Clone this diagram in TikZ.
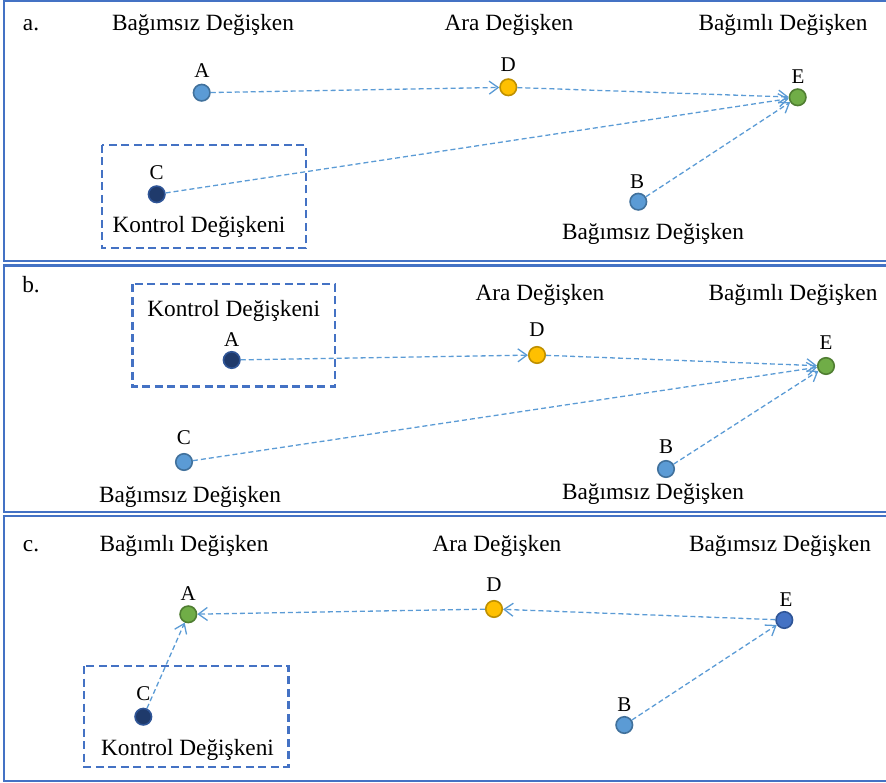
\documentclass[tikz,border=0pt]{standalone}
\usepackage{fontspec}
\setmainfont{Liberation Serif}
\usetikzlibrary{arrows.meta}

\definecolor{frameblue}{HTML}{4472C4}
\definecolor{linkblue}{HTML}{5B9BD5}
\definecolor{lightfill}{HTML}{5B9BD5}
\definecolor{lightedge}{HTML}{41719C}
\definecolor{navyfill}{HTML}{1F3A6B}
\definecolor{navyedge}{HTML}{2F5597}
\definecolor{goldfill}{HTML}{FFC000}
\definecolor{goldedge}{HTML}{BF9000}
\definecolor{greenfill}{HTML}{70AD47}
\definecolor{greenedge}{HTML}{507E32}
\definecolor{midfill}{HTML}{4472C4}
\definecolor{midedge}{HTML}{2F5597}

\tikzset{
  panel/.style={draw=frameblue, line width=2.2pt},
  ctrlbox/.style={draw=frameblue, line width=2.4pt, dash pattern=on 8pt off 4.5pt},
  caption/.style={anchor=base, inner sep=0pt, font=\fontsize{23.3}{28}\selectfont},
  letter/.style={anchor=base, inner sep=0pt, font=\fontsize{21}{25}\selectfont},
  dot/.style={circle, inner sep=0pt, minimum size=16.5pt, line width=1.6pt},
  lightdot/.style={dot, fill=lightfill, draw=lightedge},
  navydot/.style={dot, fill=navyfill, draw=navyedge},
  golddot/.style={dot, fill=goldfill, draw=goldedge},
  greendot/.style={dot, fill=greenfill, draw=greenedge},
  middot/.style={dot, fill=midfill, draw=midedge},
  link/.style={draw=linkblue, line width=1.3pt, dash pattern=on 5pt off 3pt,
    -{Straight Barb[length=9pt, width=13pt]}},
}

\begin{document}
\begin{tikzpicture}[x=1pt, y=-1pt]
\useasboundingbox (0,0) rectangle (886,783);
\clip (0,0) rectangle (886,783);

% panel frames
\draw[panel] (4.3,1) rectangle (895,261);
\draw[panel] (4.3,265.5) rectangle (895,512);
\draw[panel] (4.3,516) rectangle (895,780.8);

% ---------------- panel a ----------------
\node[caption] (a-tag) at (31,30.7) {a.};
\node[caption] (a-t1) at (203,30.7) {Bağımsız Değişken};
\node[caption] (a-t2) at (509,30.7) {Ara Değişken};
\node[caption] (a-t3) at (783,30.7) {Bağımlı Değişken};

\draw[ctrlbox] (101.7,145) rectangle (306,248.3);
\node[caption] (a-ctrl) at (199,233) {Kontrol Değişkeni};
\node[caption] (a-t4) at (653,239.3) {Bağımsız Değişken};

\node[letter] (a-lA) at (202,78) {A};
\node[letter] (a-lD) at (508.3,71.7) {D};
\node[letter] (a-lE) at (798,83.3) {E};
\node[letter] (a-lC) at (156.7,180) {C};
\node[letter] (a-lB) at (637,188.3) {B};

\node[lightdot] (aA) at (201.7,92.7) {};
\node[golddot]  (aD) at (508.3,87.3) {};
\node[greendot] (aE) at (797.7,97.3) {};
\node[navydot]  (aC) at (156.7,194.3) {};
\node[lightdot] (aB) at (638.3,201.7) {};

\draw[link] (aA) -- (aD);
\draw[link] (aD) -- (aE);
\draw[link] (aC) -- (aE);
\draw[link] (aB) -- (aE);

% ---------------- panel b ----------------
\node[caption] (b-tag) at (31,293) {b.};
\draw[ctrlbox] (132.3,284.3) rectangle (335,386.7);
\node[caption] (b-ctrl) at (233.7,316.7) {Kontrol Değişkeni};
\node[caption] (b-t2) at (540,300.7) {Ara Değişken};
\node[caption] (b-t3) at (793,300.7) {Bağımlı Değişken};
\node[caption] (b-t1) at (190,502.7) {Bağımsız Değişken};
\node[caption] (b-t4) at (653,499.7) {Bağımsız Değişken};

\node[letter] (b-lA) at (231.7,346.7) {A};
\node[letter] (b-lD) at (537,336.5) {D};
\node[letter] (b-lE) at (826,349.5) {E};
\node[letter] (b-lC) at (184,444.5) {C};
\node[letter] (b-lB) at (666,453.5) {B};

\node[navydot]  (bA) at (231.7,360) {};
\node[golddot]  (bD) at (537,355) {};
\node[greendot] (bE) at (826,366) {};
\node[lightdot] (bC) at (184,462) {};
\node[lightdot] (bB) at (666,469) {};

\draw[link] (bA) -- (bD);
\draw[link] (bD) -- (bE);
\draw[link] (bC) -- (bE);
\draw[link] (bB) -- (bE);

% ---------------- panel c ----------------
\node[caption] (c-tag) at (31,551.7) {c.};
\node[caption] (c-t1) at (184,551.7) {Bağımlı Değişken};
\node[caption] (c-t2) at (497,551.7) {Ara Değişken};
\node[caption] (c-t3) at (780,551.7) {Bağımsız Değişken};

\draw[ctrlbox] (84,666) rectangle (288.3,766.7);
\node[caption] (c-ctrl) at (187.5,755) {Kontrol Değişkeni};

\node[letter] (c-lA) at (188.3,600.7) {A};
\node[letter] (c-lD) at (494,591.5) {D};
\node[letter] (c-lE) at (786,606.7) {E};
\node[letter] (c-lC) at (143.3,700.7) {C};
\node[letter] (c-lB) at (624.3,711.7) {B};

\node[greendot] (cA) at (188.3,614.3) {};
\node[golddot]  (cD) at (494,609) {};
\node[middot]   (cE) at (784.3,620) {};
\node[navydot]  (cC) at (143.3,716.7) {};
\node[lightdot] (cB) at (624.3,725) {};

\draw[link] (cE) -- (cD);
\draw[link] (cD) -- (cA);
\draw[link] (cC) -- (cA);
\draw[link] (cB) -- (cE);

\end{tikzpicture}
\end{document}
